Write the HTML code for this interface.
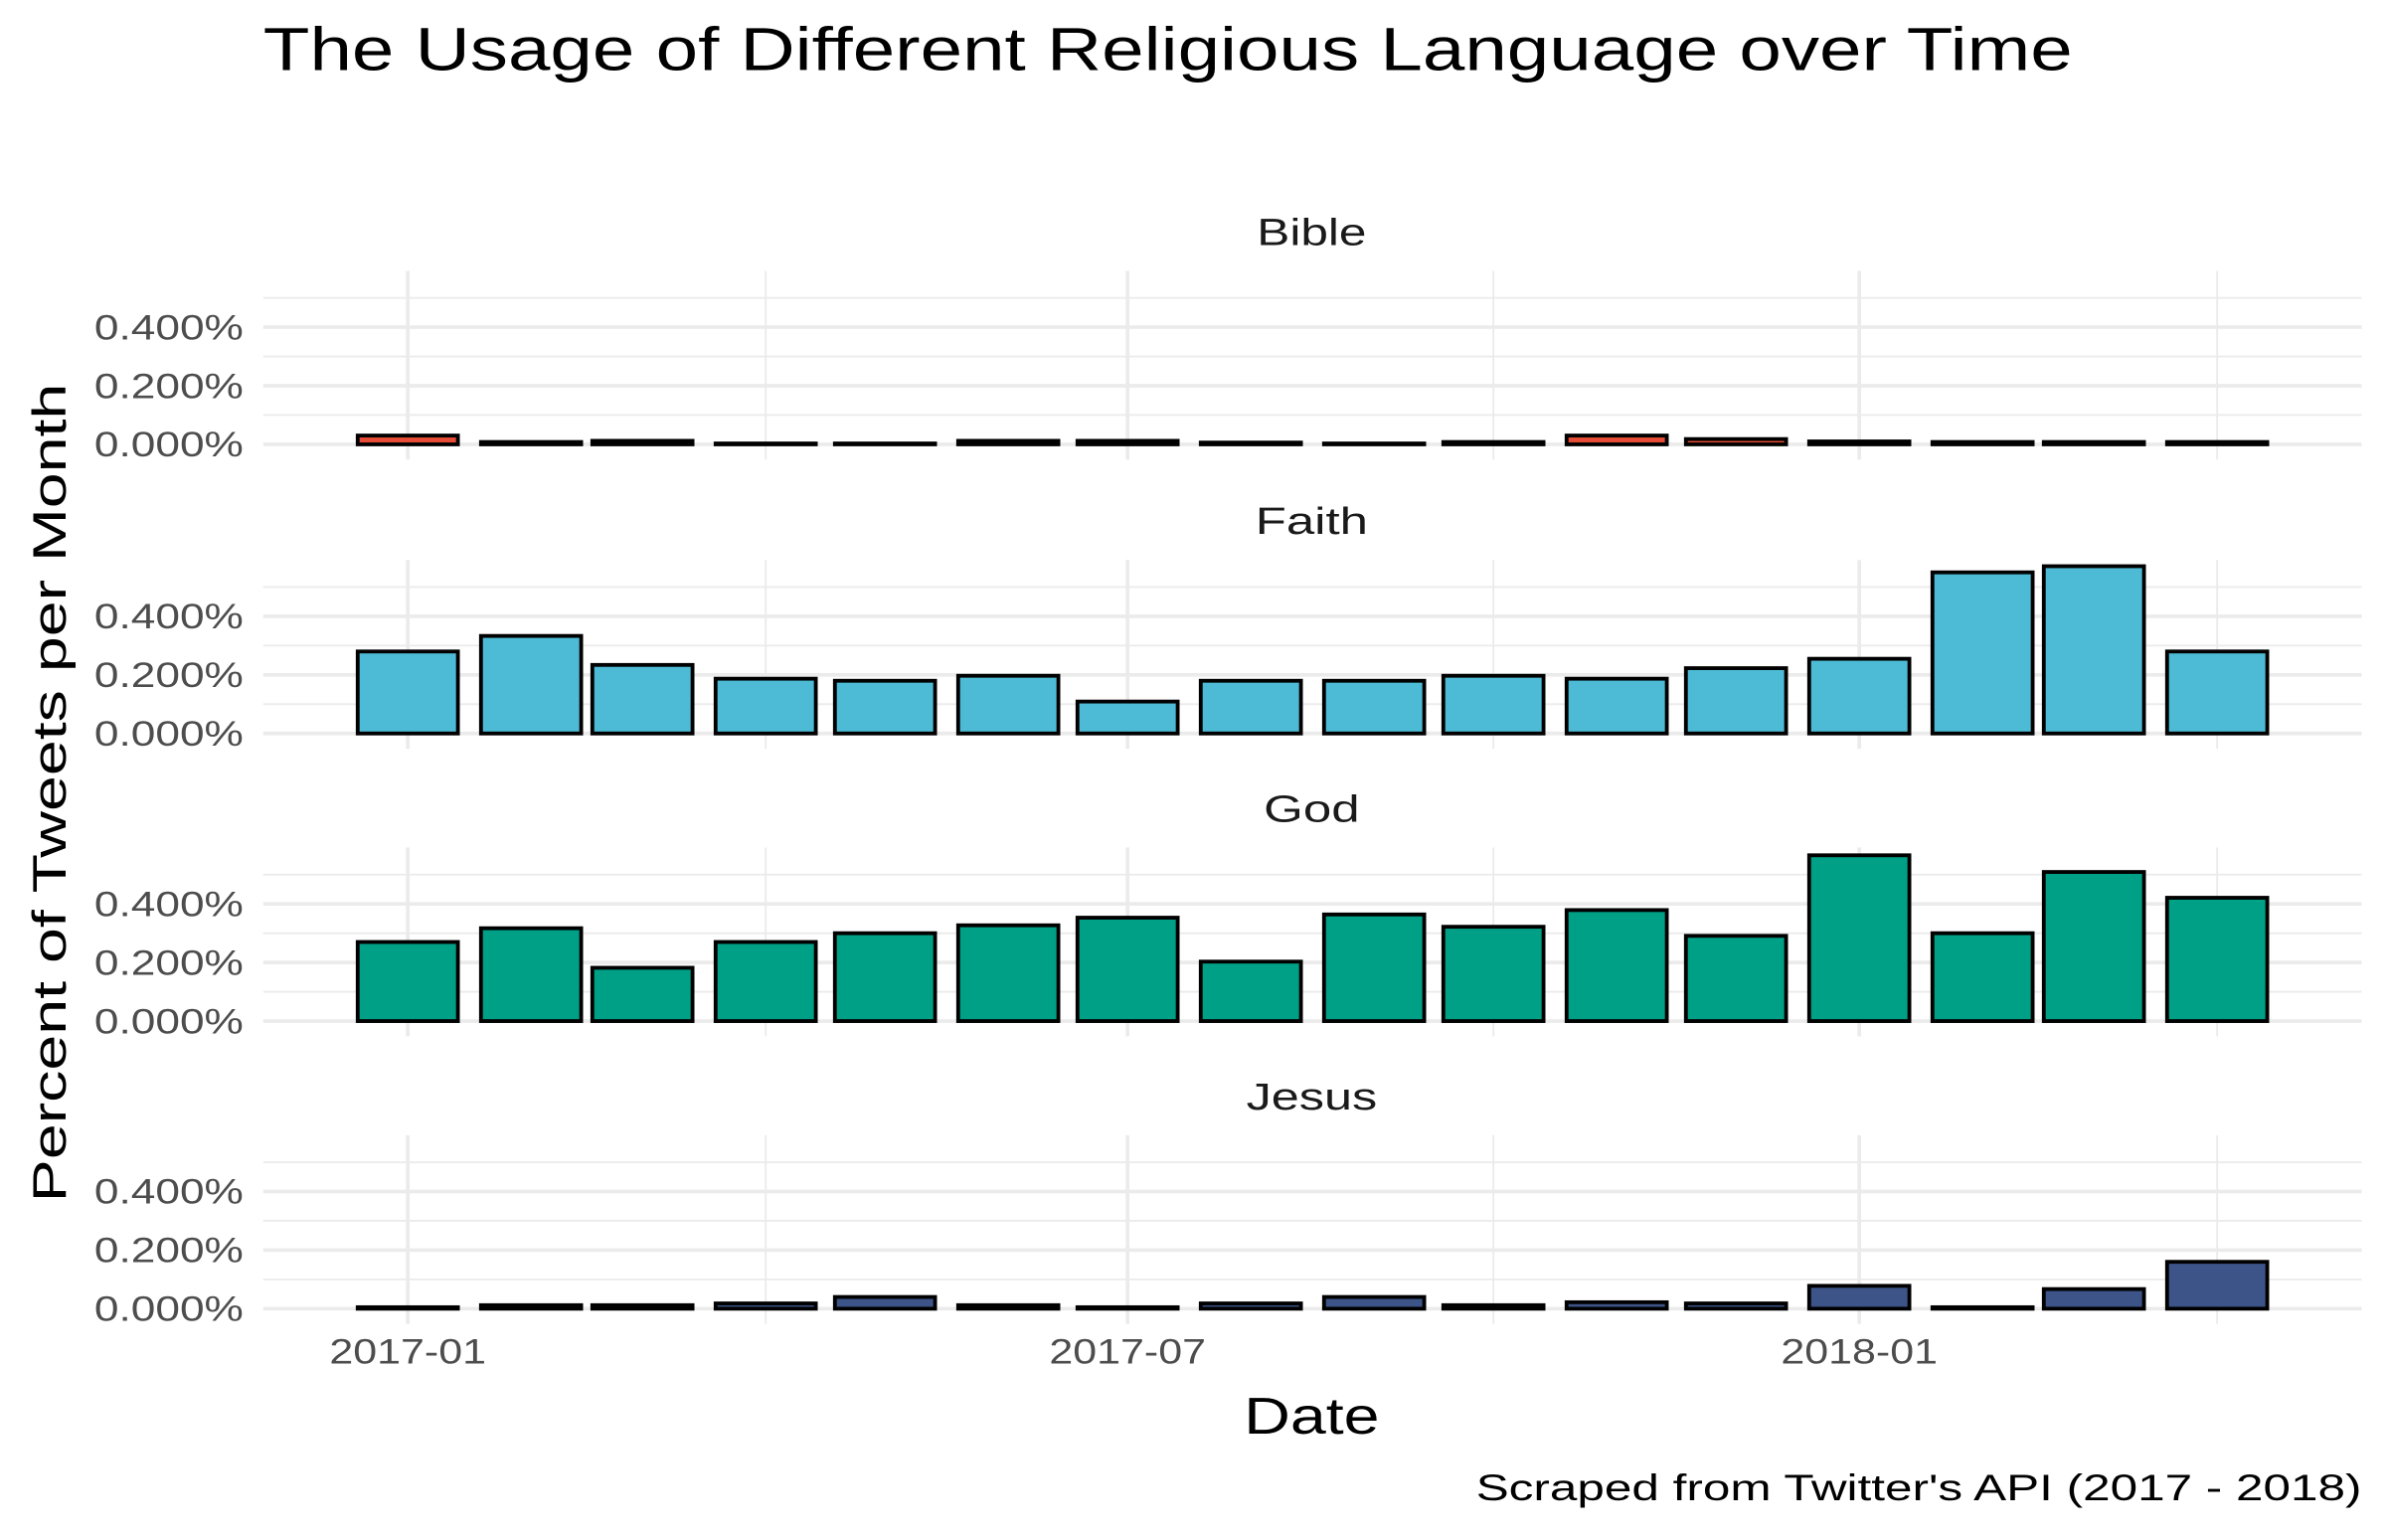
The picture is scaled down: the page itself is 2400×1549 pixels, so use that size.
<!DOCTYPE html>
<html><head><meta charset="utf-8"><style>
html,body{margin:0;padding:0;background:#fff;}
svg{display:block;font-family:"Liberation Sans",sans-serif;}
</style></head><body>
<svg id="chart" width="2400" height="1549" viewBox="0 0 1568 1012" preserveAspectRatio="none" xmlns="http://www.w3.org/2000/svg">
<rect width="1568" height="1012" fill="#fff"/>
<text x="173" y="46" font-size="40" fill="#000" textLength="1189" lengthAdjust="spacingAndGlyphs">The Usage of Different Religious Language over Time</text>
<g id="panels"></g>
<text transform="translate(43,521) rotate(-90)" text-anchor="middle" font-size="31" fill="#000" textLength="538" lengthAdjust="spacingAndGlyphs">Percent of Tweets per Month</text>
<text x="862" y="942" text-anchor="middle" font-size="34" fill="#000" textLength="89" lengthAdjust="spacingAndGlyphs">Date</text>
<text x="1552" y="986" text-anchor="end" font-size="24" fill="#000" textLength="582" lengthAdjust="spacingAndGlyphs">Scraped from Twitter's API (2017 - 2018)</text>
</svg>
<script>
const months = ["2017-01-01","2017-02-01","2017-03-01","2017-04-01","2017-05-01","2017-06-01","2017-07-01","2017-08-01","2017-09-01","2017-10-01","2017-11-01","2017-12-01","2018-01-01","2018-02-01","2018-03-01","2018-04-01"];
const panelNames = ["Bible","Faith","God","Jesus"];
const panelColors = ["#E64B35","#4DBBD5","#00A087","#3C5488"];
const bibleValues = [0.030,0.008,0.012,0.003,0.003,0.012,0.012,0.006,0.003,0.008,0.030,0.018,0.010,0.008,0.008,0.008];
const faithValues = [0.280,0.333,0.234,0.187,0.180,0.197,0.109,0.180,0.180,0.197,0.187,0.223,0.255,0.550,0.571,0.280];
const godValues = [0.270,0.317,0.182,0.270,0.300,0.327,0.353,0.203,0.364,0.322,0.379,0.291,0.566,0.300,0.509,0.421];
const jesusValues = [0.005,0.012,0.012,0.018,0.040,0.012,0.005,0.018,0.040,0.012,0.022,0.018,0.078,0.005,0.067,0.160];
const yTicks = [0,0.2,0.4];
const yTickLabels = ["0.000%","0.200%","0.400%"];
const xTicks = ["2017-01-01","2017-07-01","2018-01-01"];
const xTickLabels = ["2017-01","2017-07","2018-01"];
const xMinorTicks = ["2017-04-01","2017-10-01","2018-04-01"];

const NS="http://www.w3.org/2000/svg";
const series=[bibleValues,faithValues,godValues,jesusValues];
const stripWidths=[72,74,63,86];
const day0=Date.parse("2017-01-01");
function x(d){return 268+(Date.parse(d)-day0)/86400000*2.6133;}
const zeros=[292,482,671,860];
const pxPer=38.5/0.2;
const barW=0.9*28*2.6133;
const g=document.getElementById("panels");
function mk(tag,attrs){const e=document.createElementNS(NS,tag);for(const k in attrs)e.setAttribute(k,attrs[k]);return e;}
panelNames.forEach((name,p)=>{
  const z=zeros[p];
  const y=v=>z-v*pxPer;
  const pg=mk("g",{});
  
  
  g.appendChild(pg);
  [0.1,0.3,0.5].forEach(v=>{
    const l=mk("line",{x1:173,x2:1552,y1:y(v),y2:y(v),stroke:"#ebebeb","stroke-width":1.2});
    
    
    pg.appendChild(l);
  });
  yTicks.forEach((v,i)=>{
    const l=mk("line",{x1:173,x2:1552,y1:y(v),y2:y(v),stroke:"#ebebeb","stroke-width":2.4});
    
    
    pg.appendChild(l);
    const t=mk("text",{x:160,y:y(v)+8,"text-anchor":"end","font-size":23,fill:"#4d4d4d",textLength:98,lengthAdjust:"spacingAndGlyphs"});
    t.textContent=yTickLabels[i];
    
    
    pg.appendChild(t);
  });
  xMinorTicks.forEach(d=>{
    const l=mk("line",{x1:x(d),x2:x(d),y1:z-114,y2:z+10,stroke:"#ebebeb","stroke-width":1.2});
    
    
    pg.appendChild(l);
  });
  xTicks.forEach(d=>{
    const l=mk("line",{x1:x(d),x2:x(d),y1:z-114,y2:z+10,stroke:"#ebebeb","stroke-width":2.4});
    
    
    pg.appendChild(l);
  });
  const st=mk("text",{x:862,y:z-131,"text-anchor":"middle","font-size":25,fill:"#1a1a1a",textLength:stripWidths[p],lengthAdjust:"spacingAndGlyphs"});
  st.textContent=name;
  
  
  pg.appendChild(st);
  series[p].forEach((v,i)=>{
    const top=y(v);
    const r=mk("rect",{x:x(months[i])-barW/2,y:top,width:barW,height:Math.max(z-top,0.5),fill:panelColors[p],stroke:"#000","stroke-width":2.5});
    
    
    pg.appendChild(r);
  });
});
xTicks.forEach((d,i)=>{
  const t=mk("text",{x:x(d),y:896,"text-anchor":"middle","font-size":23,fill:"#4d4d4d",textLength:103,lengthAdjust:"spacingAndGlyphs"});
  t.textContent=xTickLabels[i];
  
  
  g.appendChild(t);
});
</script>
</body></html>
